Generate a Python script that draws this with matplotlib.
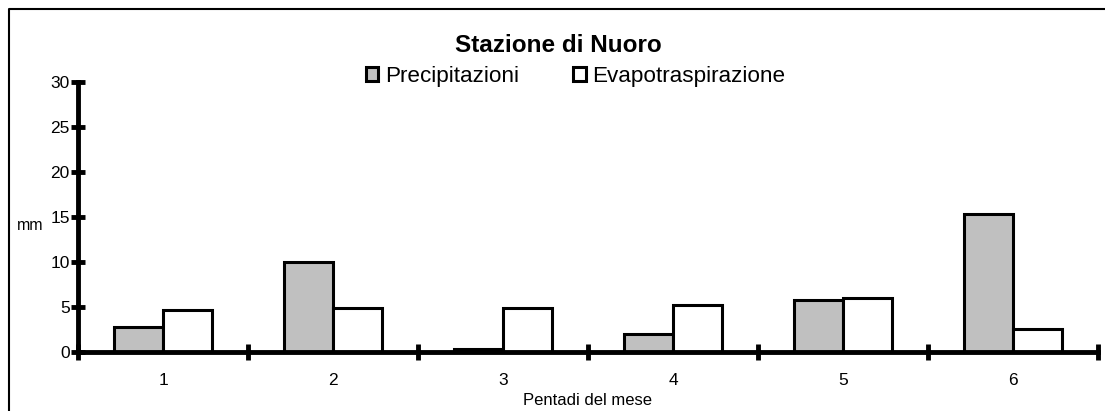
import matplotlib
matplotlib.use("Agg")
import matplotlib.pyplot as plt
import numpy as np
from matplotlib.lines import Line2D

plt.rcParams['font.family'] = ['Liberation Sans', 'DejaVu Sans']

# Data
pentadi = ['1', '2', '3', '4', '5', '6']
precipitazioni = [2.8, 10.0, 0.3, 2.0, 5.8, 15.3]
evapotraspirazione = [4.7, 4.9, 4.9, 5.2, 6.0, 2.6]
y_ticks = [0, 5, 10, 15, 20, 25, 30]

fig = plt.figure(figsize=(11.05, 4.11), dpi=100)
ax = fig.add_axes([0.0706, 0.1436, 0.9230, 0.6569])

# outer frame (left and top edges only, the rest is cropped)
fig.lines.append(Line2D([0.0077, 0.0077, 1.0], [0.0, 0.977, 0.977],
                        transform=fig.transFigure, color='black', linewidth=1.5))

x = np.arange(len(pentadi)) + 0.5
w = 0.29
ax.bar(x - w / 2, precipitazioni, w, color='#c0c0c0', edgecolor='black',
       linewidth=2.2, label='Precipitazioni', zorder=2)
ax.bar(x + w / 2, evapotraspirazione, w, color='white', edgecolor='black',
       linewidth=2.2, label='Evapotraspirazione', zorder=2)

ax.set_xlim(0, len(pentadi))
ax.set_ylim(0, 30)

# thick axes
for s in ['top', 'right']:
    ax.spines[s].set_visible(False)
for s in ['left', 'bottom']:
    ax.spines[s].set_linewidth(3.5)
    ax.spines[s].set_zorder(3)

ax.set_yticks(y_ticks)
ax.set_yticklabels([str(v) for v in y_ticks], fontsize=12.5)
ax.tick_params(axis='y', direction='inout', length=10, width=3.5, pad=1)

# category boundaries as major ticks, labels at category centres
ax.set_xticks(np.arange(len(pentadi) + 1))
ax.set_xticklabels([])
ax.set_xticks(x, minor=True)
ax.set_xticklabels(pentadi, minor=True, fontsize=12.5)
ax.tick_params(axis='x', which='major', direction='inout', length=12, width=3.5)
ax.tick_params(axis='x', which='minor', length=0, pad=15)

ax.set_xlabel('Pentadi del mese', fontsize=12, labelpad=4)
ax.set_ylabel('mm', fontsize=11.5, rotation=0, va='center')
ax.yaxis.set_label_coords(-0.047, 0.47)

fig.suptitle('Stazione di Nuoro', fontsize=17.5, fontweight='bold', x=0.505, y=0.918)

ax.legend(loc='center', bbox_to_anchor=(0.488, 1.02), ncol=2, frameon=False,
          fontsize=16.2, handlelength=0.55, handleheight=0.55, handletextpad=0.3,
          columnspacing=2.4)

fig.savefig('out.png', dpi=100)
